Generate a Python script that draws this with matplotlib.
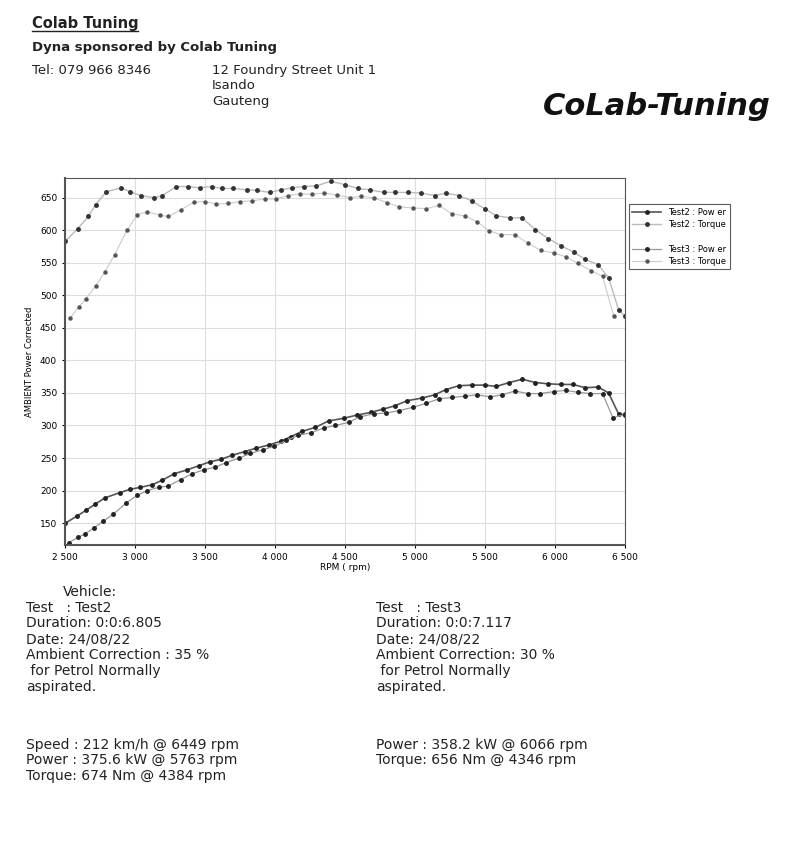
import numpy as np
import matplotlib.pyplot as plt

# values
rpm_t2 = [2504, 2591, 2668, 2720, 2797, 2903, 2966, 3045, 3138, 3196, 3297, 3381, 3463, 3548, 3622,
          3698, 3799, 3873, 3963, 4045, 4124, 4208, 4296, 4399, 4499, 4592, 4679, 4777, 4861, 4948,
          5046, 5141, 5221, 5318, 5406, 5498, 5583, 5681, 5765, 5860, 5953, 6045, 6138, 6217, 6310,
          6384, 6455, 6500]
torque_t2 = [583, 602, 621, 639, 659, 665, 659, 653, 650, 653, 667, 667, 665, 667, 664,
             664, 662, 661, 658, 662, 665, 667, 668, 675, 670, 664, 662, 658, 658, 658,
             657, 653, 657, 653, 645, 633, 622, 619, 619, 601, 587, 576, 566, 555, 547,
             527, 478, 468]

rpm_t3 = [2538, 2601, 2649, 2720, 2786, 2855, 2945, 3019, 3090, 3178, 3238, 3328, 3421, 3500, 3579,
          3667, 3754, 3838, 3931, 4005, 4097, 4182, 4269, 4354, 4441, 4539, 4618, 4705, 4803, 4890,
          4988, 5081, 5173, 5266, 5358, 5445, 5530, 5617, 5715, 5807, 5900, 5992, 6080, 6164, 6257,
          6341, 6421]
torque_t3 = [465, 482, 494, 514, 536, 562, 600, 624, 628, 623, 621, 631, 643, 644, 640,
             641, 644, 645, 648, 648, 653, 656, 655, 657, 654, 650, 652, 650, 642, 636,
             634, 633, 638, 625, 622, 613, 599, 593, 593, 580, 569, 565, 559, 549, 538,
             529, 468]

rpm_p2 = [2504, 2588, 2654, 2715, 2789, 2895, 2966, 3040, 3125, 3196, 3283, 3376, 3455, 3534, 3614,
          3693, 3786, 3865, 3957, 4045, 4116, 4195, 4288, 4385, 4491, 4586, 4684, 4771, 4856, 4943,
          5049, 5141, 5221, 5313, 5406, 5498, 5583, 5675, 5768, 5860, 5953, 6045, 6130, 6217, 6310,
          6384, 6455, 6500]
power_p2 = [150, 161, 170, 179, 189, 197, 202, 205, 209, 216, 226, 232, 238, 244, 248,
            254, 260, 265, 270, 276, 283, 291, 297, 307, 311, 316, 320, 325, 330, 338,
            342, 347, 355, 361, 362, 362, 360, 366, 371, 366, 364, 363, 363, 358, 359,
            350, 318, 316]

rpm_p3 = [2530, 2591, 2641, 2710, 2776, 2847, 2940, 3019, 3090, 3170, 3238, 3328, 3410, 3495, 3574,
          3653, 3746, 3825, 3918, 3997, 4082, 4169, 4261, 4348, 4433, 4531, 4605, 4705, 4795, 4890,
          4988, 5081, 5173, 5266, 5358, 5445, 5538, 5622, 5715, 5807, 5895, 5992, 6077, 6164, 6252,
          6341, 6415, 6500]
power_p3 = [120, 128, 133, 143, 153, 164, 181, 193, 200, 205, 207, 217, 226, 232, 236,
            243, 250, 257, 263, 268, 277, 285, 289, 296, 300, 305, 313, 318, 319, 323,
            328, 334, 341, 343, 345, 347, 344, 347, 353, 349, 349, 352, 354, 351, 349,
            349, 312, 317]

x_ticks = [2500, 3000, 3500, 4000, 4500, 5000, 5500, 6000, 6500]
x_labels = ['2 500', '3 000', '3 500', '4 000', '4 500', '5 000', '5 500', '6 000', '6 500']
y_ticks = [150, 200, 250, 300, 350, 400, 450, 500, 550, 600, 650]

fig = plt.figure(figsize=(8, 8.52), dpi=100)
ax = fig.add_axes([0.081, 0.360, 0.70, 0.431])

ax.plot(rpm_p2, power_p2, color='#555555', lw=1.2, marker='o', ms=2.5, mfc='#222222', mec='#222222', label='Test2 : Pow er')
ax.plot(rpm_t2, torque_t2, color='#bbbbbb', lw=1.0, marker='o', ms=2.5, mfc='#333333', mec='#333333', label='Test2 : Torque')
ax.plot([], [], color='none', label=' ')
ax.plot(rpm_p3, power_p3, color='#999999', lw=0.9, marker='o', ms=2.5, mfc='#222222', mec='#222222', label='Test3 : Pow er')
ax.plot(rpm_t3, torque_t3, color='#cccccc', lw=0.8, marker='o', ms=2.2, mfc='#555555', mec='#555555', label='Test3 : Torque')

ax.set_xlim(2500, 6500)
ax.set_ylim(116, 680)
ax.set_xticks(x_ticks)
ax.set_xticklabels(x_labels, fontsize=6.5)
ax.set_yticks(y_ticks)
ax.tick_params(axis='y', labelsize=6.5, length=2)
ax.tick_params(axis='x', length=2)
ax.grid(True, color='#dddddd', lw=0.8)
ax.set_xlabel('RPM ( rpm)', fontsize=6.5, labelpad=1)
ax.set_ylabel('AMBIENT Power Corrected', fontsize=6)
for s in ax.spines.values():
    s.set_color('#555555')
ax.spines['left'].set_linewidth(1.5)
ax.spines['bottom'].set_linewidth(1.5)

leg = ax.legend(loc='upper left', bbox_to_anchor=(1.0, 0.94), fontsize=6, frameon=True,
                fancybox=False, edgecolor='#333333', handlelength=3.5, labelspacing=0.4)
leg.get_frame().set_linewidth(0.8)

# header
fig.text(0.04, 0.967, 'Colab Tuning', fontsize=10.5, weight='bold', color='#222222')
fig.add_artist(plt.Line2D([0.04, 0.173], [0.964, 0.964], color='#222222', lw=1))
fig.text(0.04, 0.940, 'Dyna sponsored by Colab Tuning', fontsize=9.5, weight='bold', color='#222222')
fig.text(0.04, 0.913, 'Tel: 079 966 8346', fontsize=9.5, color='#222222')
fig.text(0.265, 0.913, '12 Foundry Street Unit 1', fontsize=9.5, color='#222222')
fig.text(0.265, 0.895, 'Isando', fontsize=9.5, color='#222222')
fig.text(0.265, 0.877, 'Gauteng', fontsize=9.5, color='#222222')
fig.text(0.963, 0.865, 'CoLab-Tuning', fontsize=22, style='italic', weight='bold', color='#111111',
         ha='right')

# footer
left = ['Test   : Test2', 'Duration: 0:0:6.805', 'Date: 24/08/22', 'Ambient Correction : 35 %',
        ' for Petrol Normally', 'aspirated.']
right = ['Test   : Test3', 'Duration: 0:0:7.117', 'Date: 24/08/22', 'Ambient Correction: 30 %',
         ' for Petrol Normally', 'aspirated.']
fig.text(0.078, 0.300, 'Vehicle:', fontsize=10, color='#222222')
for i, (a, b) in enumerate(zip(left, right)):
    y = 0.282 - i * 0.0185
    fig.text(0.033, y, a, fontsize=10, color='#222222')
    fig.text(0.47, y, b, fontsize=10, color='#222222')

fig.text(0.033, 0.121, 'Speed : 212 km/h @ 6449 rpm', fontsize=10, color='#222222')
fig.text(0.033, 0.103, 'Power : 375.6 kW @ 5763 rpm', fontsize=10, color='#222222')
fig.text(0.033, 0.085, 'Torque: 674 Nm @ 4384 rpm', fontsize=10, color='#222222')
fig.text(0.47, 0.121, 'Power : 358.2 kW @ 6066 rpm', fontsize=10, color='#222222')
fig.text(0.47, 0.103, 'Torque: 656 Nm @ 4346 rpm', fontsize=10, color='#222222')

fig.savefig('out.png', dpi=100)
